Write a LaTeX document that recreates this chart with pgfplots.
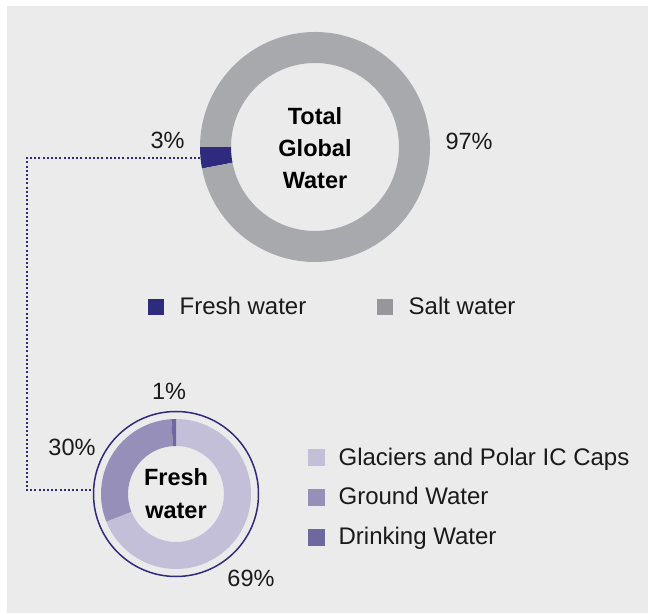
\documentclass[border=0pt]{standalone}
\usepackage{pgfplots}
\pgfplotsset{compat=1.18}
\usepackage{pgfplotstable}
\usepackage{fontspec}
\setmainfont{Liberation Sans}

\definecolor{panel}{HTML}{EBEBEB}
\definecolor{freshc}{HTML}{2E2A7E}
\definecolor{saltc}{HTML}{A8A9AD}
\definecolor{saltleg}{HTML}{97979B}
\definecolor{glacc}{HTML}{C3BFD9}
\definecolor{groundc}{HTML}{958FB9}
\definecolor{drinkc}{HTML}{6E68A0}
\definecolor{txt}{HTML}{1A1A1A}

% Total global water (percent)
\pgfplotstableread{
value color
3 freshc
97 saltc
}\totaltab

% Fresh water split (percent)
\pgfplotstableread{
value color
69 glacc
30 groundc
1 drinkc
}\freshtab

% #1 table, #2 cx, #3 cy, #4 inner r, #5 outer r, #6 start angle, #7 direction (+1 ccw, -1 cw)
\newcommand\drawdonut[7]{%
  \pgfplotstablegetrowsof{#1}%
  \pgfmathtruncatemacro\nrows{\pgfplotsretval-1}%
  \edef\cumangle{#6}%
  \pgfplotsforeachungrouped \i in {0,...,\nrows}{%
    \pgfplotstablegetelem{\i}{value}\of{#1}\let\val\pgfplotsretval
    \pgfplotstablegetelem{\i}{color}\of{#1}\let\col\pgfplotsretval
    \pgfmathsetmacro\endangle{\cumangle + #7*3.6*\val}%
    \edef\temp{\noexpand\fill[\col] ([shift={(\cumangle:#5bp)}]axis cs:#2,#3)
      arc[start angle=\cumangle, end angle=\endangle, radius=#5bp]
      -- ([shift={(\endangle:#4bp)}]axis cs:#2,#3)
      arc[start angle=\endangle, end angle=\cumangle, radius=#4bp] -- cycle;}%
    \temp
    \global\let\cumangle\endangle
  }%
}

\newcommand\legfont{\fontsize{24bp}{28bp}\selectfont}
\newcommand\pctfont{\fontsize{23.5bp}{27bp}\selectfont}

\pgfplotsset{
  canvas/.style={
    at={(0,0)}, anchor=south west,
    width=648bp, height=613bp, scale only axis,
    xmin=0, xmax=648, ymin=0, ymax=613,
    hide axis, clip=false,
  },
}

\begin{document}
\begin{tikzpicture}
\begin{axis}[canvas,
  legend image code/.code={\fill[#1] (0bp,-7.5bp) rectangle (15bp,7.5bp);},
  legend style={draw=none, fill=none, at={(axis cs:148,306)}, anchor=west,
    legend columns=2, font=\legfont, text=txt, inner sep=0pt,
    nodes={inner sep=0pt},
    /tikz/every odd column/.append style={column sep=16bp},
    /tikz/every even column/.append style={column sep=71bp}},
]
\fill[white] (axis cs:0,0) rectangle (axis cs:648,613);
\fill[panel] (axis cs:7,0) rectangle (axis cs:648,607);
\drawdonut{\totaltab}{315}{466}{84}{115}{180}{1}
\addplot[freshc, line width=2bp, dash pattern=on 2bp off 2.2bp, forget plot]
  coordinates {(200,455) (27,455) (27,123) (91,123)};
\node[font=\fontsize{23.5bp}{32bp}\selectfont\bfseries, align=center, text=black]
  at (axis cs:315,465) {Total\\Global\\Water};
\node[font=\pctfont, text=txt, anchor=east] at (axis cs:188,473) {3\%};
\node[font=\pctfont, text=txt, anchor=west] at (axis cs:442,472) {97\%};
\addlegendimage{freshc}\addlegendentry{Fresh water}
\addlegendimage{saltleg}\addlegendentry{Salt water}
\end{axis}

\begin{axis}[canvas,
  legend image code/.code={\fill[#1] (0bp,-8bp) rectangle (16bp,8bp);},
  legend style={draw=none, fill=none, at={(axis cs:308,116)}, anchor=west,
    legend columns=1, font=\legfont, text=txt, inner sep=0pt,
    nodes={inner sep=0pt}, row sep=21bp,
    /tikz/every odd column/.append style={column sep=14bp}},
  legend cell align=left,
]
\drawdonut{\freshtab}{176}{119}{48}{75}{90}{-1}
\draw[freshc, line width=1.5bp] (axis cs:176,119) circle[radius=82.5bp];
\node[font=\fontsize{23.5bp}{33bp}\selectfont\bfseries, align=center, text=black]
  at (axis cs:176,119.5) {Fresh\\water};
\node[font=\pctfont, text=txt] at (axis cs:169,222) {1\%};
\node[font=\pctfont, text=txt] at (axis cs:72,166) {30\%};
\node[font=\pctfont, text=txt] at (axis cs:251,35) {69\%};
\addlegendimage{glacc}\addlegendentry{Glaciers and Polar IC Caps}
\addlegendimage{groundc}\addlegendentry{Ground Water}
\addlegendimage{drinkc}\addlegendentry{Drinking Water}
\end{axis}
\end{tikzpicture}
\end{document}
